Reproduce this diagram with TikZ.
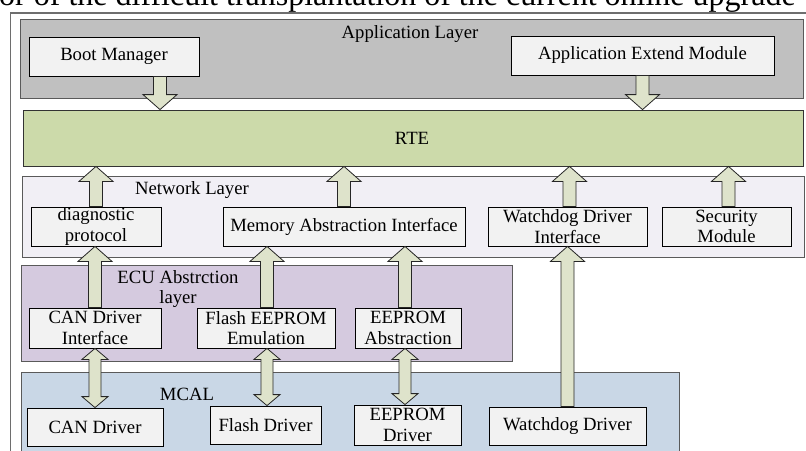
\documentclass[tikz,border=0pt]{standalone}
\usepackage{fontspec}
\setmainfont{Liberation Serif}
\usetikzlibrary{calc}

\definecolor{appgray}{HTML}{C0C0C0}
\definecolor{boxfill}{HTML}{F2F2F2}
\definecolor{rtegreen}{HTML}{CCDAAA}
\definecolor{netfill}{HTML}{F1EFF5}
\definecolor{ecufill}{HTML}{D5CADF}
\definecolor{mcalfill}{HTML}{C9D7E6}
\definecolor{arrowfill}{HTML}{DEE3CB}
\definecolor{layerline}{HTML}{5A5A5A}
\definecolor{framecol}{HTML}{6E6E6E}

% block arrow geometry
\newcommand\sw{6.5pt}  % half shaft width
\newcommand\hw{17pt}   % half head width
\newcommand\hl{15pt}   % head length
\newcommand\dsw{6pt}
\newcommand\dhw{13pt}
\newcommand\dhl{11pt}

% single-headed block arrow pointing up: #1 foot, #2 tip (y only)
\newcommand\blkup[2]{%
  \draw[blk] let \p1=#1, \p2=#2 in
    (\x1-\sw,\y1) -- (\x1-\sw,\y2-\hl) -- (\x1-\hw,\y2-\hl) -- (\x1,\y2)
    -- (\x1+\hw,\y2-\hl) -- (\x1+\sw,\y2-\hl) -- (\x1+\sw,\y1) -- cycle;}
% single-headed block arrow pointing down: #1 foot, #2 tip (y only)
\newcommand\blkdown[2]{%
  \draw[blk] let \p1=#1, \p2=#2 in
    (\x1-\sw,\y1) -- (\x1-\sw,\y2+\hl) -- (\x1-\hw,\y2+\hl) -- (\x1,\y2)
    -- (\x1+\hw,\y2+\hl) -- (\x1+\sw,\y2+\hl) -- (\x1+\sw,\y1) -- cycle;}
% double-headed vertical block arrow: #1 upper tip, #2 lower tip (y only)
\newcommand\blkboth[2]{%
  \draw[blk] let \p1=#1, \p2=#2 in
    (\x1,\y1) -- (\x1-\dhw,\y1-\dhl) -- (\x1-\dsw,\y1-\dhl) -- (\x1-\dsw,\y2+\dhl)
    -- (\x1-\dhw,\y2+\dhl) -- (\x1,\y2) -- (\x1+\dhw,\y2+\dhl) -- (\x1+\dsw,\y2+\dhl)
    -- (\x1+\dsw,\y1-\dhl) -- (\x1+\dhw,\y1-\dhl) -- cycle;}

\tikzset{
  every node/.style={font=\fontsize{18.7}{20.5}\selectfont, inner sep=0pt},
  layer/.style={draw=layerline, line width=0.8pt, inner sep=0pt},
  modbox/.style={draw=black, line width=0.8pt, fill=boxfill, align=center, inner sep=0pt},
  lbl/.style={align=center, inner sep=0pt},
  blk/.style={draw=black!85, line width=0.8pt, fill=arrowfill, line join=miter},
}

\begin{document}
\begin{tikzpicture}[x=1pt, y=-1pt]
  \clip (0,0) rectangle (806,450);

  % caption line above the figure
  \node[anchor=base west, font=\fontsize{32}{35}\selectfont] (cap) at (-1,5.5)
    {or of the difficult transplantation of the current online upgrade};

  % outer frame
  \draw[framecol, line width=1.3pt] (10.5,470) -- (10.5,13) -- (830,13);

  % layers
  \node[layer, fill=appgray,  minimum width=783pt, minimum height=79pt] (app)  at (411.5,58.5) {};
  \node[layer, fill=rtegreen, draw=black!80, minimum width=780pt, minimum height=56pt] (rte) at (413,138) {};
  \node[layer, fill=netfill,  minimum width=782pt, minimum height=81pt] (net)  at (413,216.5) {};
  \node[layer, fill=ecufill,  minimum width=491pt, minimum height=96pt] (ecu)  at (266.5,313) {};
  \node[layer, fill=mcalfill, minimum width=658pt, minimum height=98pt] (mcal) at (350,421) {};

  % layer titles
  \node[lbl] (applbl)  at (410,34)  {Application Layer};
  \node[lbl] (rtelbl)  at (412,138) {RTE};
  \node[lbl] (netlbl)  at (192,190) {Network Layer};
  \node[lbl] (eculbl)  at (178,289) {ECU Abstrction\\layer};
  \node[lbl] (mcallbl) at (187,394) {MCAL};

  % application layer modules
  \node[modbox, minimum width=170pt, minimum height=39pt] (boot)   at (114,56.5)   {Boot Manager};
  \node[modbox, minimum width=263pt, minimum height=39pt] (appext) at (642.5,55.5) {Application Extend Module};

  % network layer modules
  \node[modbox, minimum width=130pt, minimum height=39pt] (diag) at (96,226.5)    {diagnostic\\protocol};
  \node[modbox, minimum width=242pt, minimum height=39pt] (mem)  at (344,226.5)   {Memory Abstraction Interface};
  \node[modbox, minimum width=159pt, minimum height=39pt] (wdi)  at (567.5,226.5) {Watchdog Driver\\Interface};
  \node[modbox, minimum width=129pt, minimum height=39pt] (sec)  at (726.5,226.5) {Security\\Module};

  % ECU abstraction modules
  \node[modbox, minimum width=132pt, minimum height=40pt] (canif)   at (95,328)  {CAN Driver\\Interface};
  \node[modbox, minimum width=138pt, minimum height=40pt] (flashem) at (266,328) {Flash EEPROM\\Emulation};
  \node[modbox, minimum width=106pt, minimum height=40pt] (eepabs)  at (408,328) {EEPROM\\Abstraction};

  % MCAL drivers
  \node[modbox, minimum width=136pt, minimum height=38pt] (candrv)   at (95,427)    {CAN Driver};
  \node[modbox, minimum width=111pt, minimum height=38pt] (flashdrv) at (265.5,425) {Flash Driver};
  \node[modbox, minimum width=107pt, minimum height=40pt] (eepdrv)   at (407.5,425) {EEPROM\\Driver};
  \node[modbox, minimum width=157pt, minimum height=38pt] (wddrv)    at (567.5,426) {Watchdog Driver};

  % application layer -> RTE
  \blkdown{([xshift=46pt]boot.south)}{(rte.north)}
  \blkdown{(appext.south)}{(rte.north)}

  % network layer -> RTE
  \blkup{(diag.north)}{(rte.south)}
  \blkup{(mem.north)}{(rte.south)}
  \blkup{([xshift=2pt]wdi.north)}{(rte.south)}
  \blkup{([xshift=2pt]sec.north)}{(rte.south)}

  % ECU abstraction -> network layer
  \blkup{(canif.north)}{(diag.south)}
  \blkup{([xshift=1pt]flashem.north)}{(mem.south)}
  \blkup{([xshift=-3pt]eepabs.north)}{(mem.south)}
  \blkup{(wddrv.north)}{(wdi.south)}

  % ECU abstraction <-> MCAL
  \blkboth{(canif.south)}{(candrv.north)}
  \blkboth{([xshift=1pt]flashem.south)}{(flashdrv.north)}
  \blkboth{([xshift=-3pt]eepabs.south)}{(eepdrv.north)}
\end{tikzpicture}
\end{document}
